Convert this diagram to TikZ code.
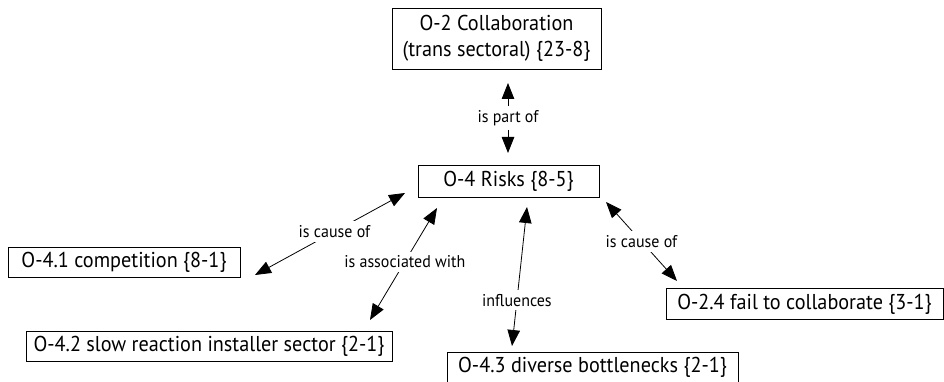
\documentclass[tikz,border=0pt]{standalone}
\usepackage{fontspec}
\setmainfont{PT Sans}[FakeStretch=0.94]
\usetikzlibrary{arrows.meta}
\begin{document}
\begin{tikzpicture}[x=1pt,y=-1pt,
  concept/.style={draw=black,line width=0.8pt,fill=white,inner sep=0pt,
    font=\fontsize{21.5}{26.5}\selectfont,align=center},
  rel/.style={line width=0.8pt,{Triangle[length=16pt,width=12.5pt]}-{Triangle[length=16pt,width=12.5pt]}},
  lbl/.style={fill=white,inner xsep=2pt,inner ysep=4pt,font=\fontsize{17}{19}\selectfont}]
\useasboundingbox (0,0) rectangle (944,382);
% concepts
\node[concept,minimum width=209pt,minimum height=61pt] (o2) at (496.5,38.5) {O-2 Collaboration\\(trans sectoral) \{23-8\}};
\node[concept,minimum width=181pt,minimum height=32pt] (o4) at (508.5,181) {O-4 Risks \{8-5\}};
\node[concept,minimum width=232pt,minimum height=30pt] (o41) at (124,262) {O-4.1 competition \{8-1\}};
\node[concept,minimum width=366pt,minimum height=30pt] (o42) at (209,346) {O-4.2 slow reaction installer sector \{2-1\}};
\node[concept,minimum width=291pt,minimum height=30pt] (o43) at (592.5,367.5) {O-4.3 diverse bottlenecks \{2-1\}};
\node[concept,minimum width=277pt,minimum height=31pt] (o24) at (804.5,304) {O-2.4 fail to collaborate \{3-1\}};
% connector end points
\coordinate (a1) at (508,83);   \coordinate (a2) at (508,153);
\coordinate (b1) at (405,193);  \coordinate (b2) at (255,275);
\coordinate (c1) at (437,208);  \coordinate (c2) at (370,320);
\coordinate (d1) at (527,207);  \coordinate (d2) at (512,346);
\coordinate (e1) at (606,202);  \coordinate (e2) at (677,281);
% relations
\draw[rel] (a1) -- node[lbl] {is part of} (a2);
\draw[rel] (b1) -- node[lbl,pos=0.47] {is cause of} (b2);
\draw[rel] (c1) -- node[lbl,pos=0.48] {is associated with} (c2);
\draw[rel] (d1) -- node[lbl,pos=0.67] {influences} (d2);
\draw[rel] (e1) -- node[lbl,pos=0.5] {is cause of} (e2);
\end{tikzpicture}
\end{document}
